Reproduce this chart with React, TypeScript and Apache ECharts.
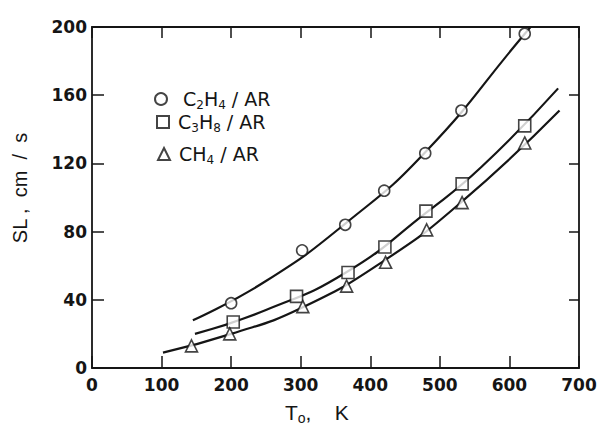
import React, { useEffect, useRef } from "react";
import * as echarts from "echarts";

// Measured points (T0 in K, SL in cm/s)
const c2h4T = [200, 302, 364, 420, 479, 531, 622];
const c2h4S = [38, 69, 84, 104, 126, 151, 196];
const c3h8T = [203, 294, 368, 421, 480, 532, 622];
const c3h8S = [27, 42, 56, 71, 92, 108, 142];
const ch4T = [143, 198, 303, 366, 422, 481, 532, 622];
const ch4S = [13, 20, 36, 48, 62, 81, 97, 132];

// Fitted curves
const c2h4FitT = [145, 250, 365, 480, 620, 645];
const c2h4FitS = [28, 51, 85, 127, 195, 207];
const c3h8FitT = [148, 250, 365, 480, 560, 670];
const c3h8FitS = [20, 34, 56, 91, 118, 164];
const ch4FitT = [102, 200, 300, 420, 530, 672];
const ch4FitS = [9, 20, 35, 63, 97, 151];

const xTicks = { min: 0, max: 700, interval: 100 };
const yTicks = { min: 0, max: 200, interval: 40 };

const names = ["C2H4 / AR", "C3H8 / AR", "CH4 / AR"];

const INK = "#151515";
const pair = (xs: number[], ys: number[]) => xs.map((x, i) => [x, ys[i]]);

export default function App() {
  const ref = useRef<HTMLDivElement>(null);
  useEffect(() => {
    if (!ref.current) return;
    const chart = echarts.init(ref.current, undefined, { renderer: "svg" });
    const tickFont = {
      fontFamily: "DejaVu Sans",
      fontSize: 17,
      fontWeight: "bold" as const,
      color: INK,
    };
    const subRich = {
      sub: {
        fontFamily: "DejaVu Sans",
        fontSize: 12,
        verticalAlign: "bottom" as const,
        color: INK,
      },
    };
    const fmt = (n: string) => n.replace(/(\d)/g, "{sub|$1}");
    const markerStyle = { color: "#fff", borderColor: INK, borderWidth: 1.6 };
    const lineCommon = {
      type: "line" as const,
      showSymbol: false,
      symbol: "none",
      smooth: 0.5,
      lineStyle: { color: INK, width: 2.2 },
      z: 2,
      silent: true,
    };
    const mkLegend = (name: string, left: number, top: number, pad: number) => ({
      data: [name],
      left,
      top,
      orient: "vertical" as const,
      padding: 0,
      itemWidth: 12,
      itemHeight: 12,
      formatter: fmt,
      textStyle: {
        fontFamily: "DejaVu Sans",
        fontSize: 19,
        lineHeight: 24,
        color: INK,
        padding: [0, 0, 0, pad],
        rich: subRich,
      },
      selectedMode: false,
    });
    const axisLineStyle = { color: INK, width: 1.8 };
    chart.setOption({
      animation: false,
      backgroundColor: "#fff",
      grid: { left: 92, right: 24, top: 27, bottom: 60 },
      legend: [
        mkLegend(names[0], 154, 87, 11),
        mkLegend(names[1], 156, 110, 4),
        mkLegend(names[2], 157, 142, 4),
      ],
      xAxis: [
        {
          type: "value",
          position: "bottom",
          ...xTicks,
          axisLine: { show: true, onZero: false, lineStyle: axisLineStyle },
          axisTick: { show: true, inside: true, length: 12, lineStyle: { color: INK, width: 1.5 } },
          axisLabel: { ...tickFont, margin: 8 },
          splitLine: { show: false },
        },
        {
          type: "value",
          position: "top",
          ...xTicks,
          axisLine: { show: true, onZero: false, lineStyle: axisLineStyle },
          axisTick: { show: true, inside: true, length: 11, lineStyle: { color: INK, width: 1.5 } },
          axisLabel: { show: false },
          splitLine: { show: false },
        },
      ],
      yAxis: [
        {
          type: "value",
          position: "left",
          ...yTicks,
          axisLine: { show: true, onZero: false, lineStyle: axisLineStyle },
          axisTick: { show: true, inside: true, length: 12, lineStyle: { color: INK, width: 1.5 } },
          axisLabel: { ...tickFont, margin: 5 },
          splitLine: { show: false },
        },
        {
          type: "value",
          position: "right",
          ...yTicks,
          axisLine: { show: true, onZero: false, lineStyle: axisLineStyle },
          axisTick: { show: true, inside: true, length: 10, lineStyle: { color: INK, width: 1.5 } },
          axisLabel: { show: false },
          splitLine: { show: false },
        },
      ],
      series: [
        { ...lineCommon, name: "fit1", data: pair(c2h4FitT, c2h4FitS) },
        { ...lineCommon, name: "fit2", data: pair(c3h8FitT, c3h8FitS) },
        { ...lineCommon, name: "fit3", data: pair(ch4FitT, ch4FitS) },
        {
          type: "scatter",
          name: names[0],
          symbol: "circle",
          symbolSize: 11,
          itemStyle: markerStyle,
          z: 3,
          data: pair(c2h4T, c2h4S),
        },
        {
          type: "scatter",
          name: names[1],
          symbol: "rect",
          symbolSize: 12,
          itemStyle: markerStyle,
          z: 3,
          data: pair(c3h8T, c3h8S),
        },
        {
          type: "scatter",
          name: names[2],
          symbol: "triangle",
          symbolSize: 12,
          itemStyle: markerStyle,
          z: 3,
          data: pair(ch4T, ch4S),
        },
      ],
      graphic: [
        {
          type: "text",
          x: 285,
          y: 412,
          style: {
            text: "T{sub|o},    K",
            fontFamily: "Liberation Sans",
            fontSize: 21,
            lineHeight: 26,
            fill: INK,
            verticalAlign: "middle",
            rich: { sub: { fontFamily: "Liberation Sans", fontSize: 14, verticalAlign: "bottom", fill: INK } },
          },
        },
        {
          type: "text",
          x: 20,
          y: 188,
          rotation: Math.PI / 2,
          style: {
            text: "SL ,  cm  /  s",
            fontFamily: "Liberation Sans",
            fontSize: 20,
            fill: INK,
            align: "center",
            verticalAlign: "middle",
          },
        },
      ],
    });
    return () => chart.dispose();
  }, []);
  return (
    <div
      ref={ref}
      style={{ position: "fixed", left: 0, top: 0, width: 603, height: 428 }}
    />
  );
}
